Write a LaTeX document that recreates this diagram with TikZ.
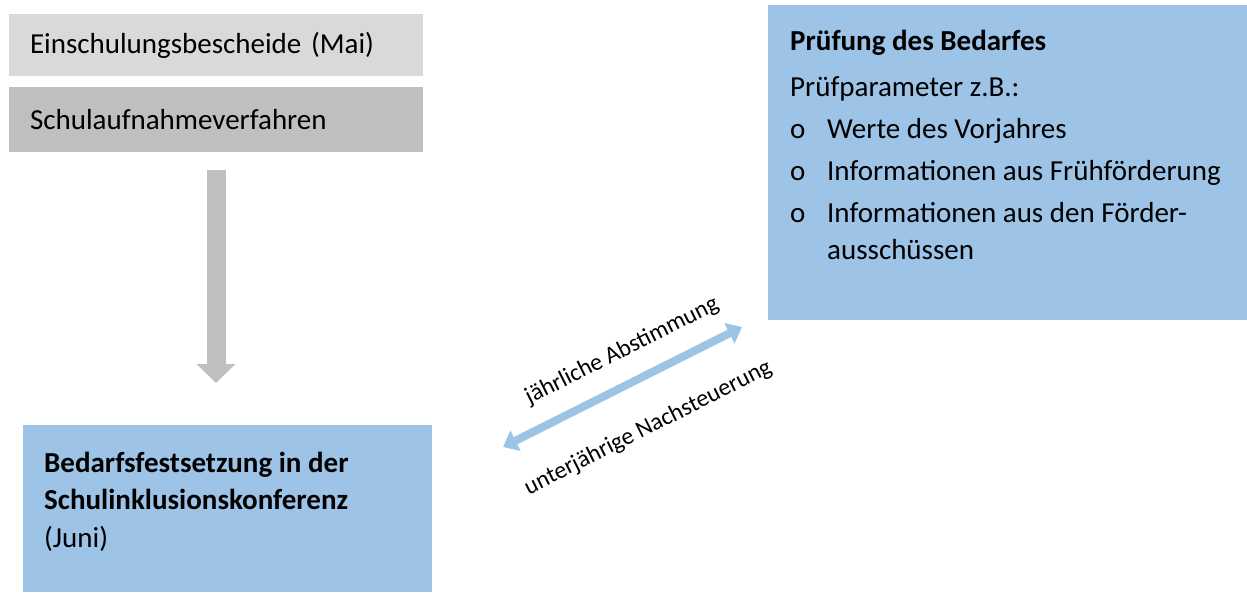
\documentclass[tikz,border=0pt]{standalone}
\usepackage{fontspec}
\setmainfont{Carlito}
\usetikzlibrary{arrows.meta,positioning}

\definecolor{boxLight}{HTML}{D9D9D9}
\definecolor{boxMid}{HTML}{BFBFBF}
\definecolor{boxBlue}{HTML}{9DC3E6}

\begin{document}
\begin{tikzpicture}[
    x=1pt, y=-1pt,
    every node/.style={font=\fontsize{29}{42}\selectfont},
    block/.style={anchor=north west, inner ysep=0pt, inner xsep=21pt,
      outer sep=0pt, align=left},
    step1/.style={block, fill=boxLight, text width=372pt, minimum height=62pt},
    step2/.style={block, fill=boxMid, text width=372pt, minimum height=65pt},
    result/.style={block, fill=boxBlue, minimum width=409pt, minimum height=167pt},
    check/.style={block, fill=boxBlue, minimum width=479pt, minimum height=315pt},
    boxtext/.style={anchor=north west, inner sep=0pt},
    label/.style={font=\fontsize{24}{29}\selectfont, inner sep=0pt},
    grayarrow/.style={draw=boxMid, line width=19pt,
      -{Triangle[width=38pt, length=19pt]}},
    bluearrow/.style={draw=boxBlue, line width=8pt,
      {Triangle[width=22pt, length=14pt]}-{Triangle[width=22pt, length=14pt]}}
  ]
    \useasboundingbox (0,0) rectangle (1247,592);

    \node[step1] (bescheide) at (9,14) {Einschulungsbescheide (Mai)};
    \node[step2] (aufnahme) at (9,87) {Schulaufnahmeverfahren};

    \node[result] (festsetzung) at (23,425) {};
    \node[boxtext, font=\fontsize{29}{37.5}\selectfont] (festText)
      at ([xshift=21pt, yshift=-21pt]festsetzung.north west) {%
      \begin{tabular}{@{}l@{}}
        \textbf{Bedarfsfestsetzung in der}\\
        \textbf{Schulinklusionskonferenz}\\
        (Juni)
      \end{tabular}};

    \node[check] (pruefung) at (768,5) {};
    \node[boxtext] (pruefText)
      at ([xshift=22pt, yshift=-15.6pt]pruefung.north west) {%
      \begin{tabular}{@{}p{37pt}@{}l@{}}
        \multicolumn{2}{@{}l@{}}{\textbf{Prüfung des Bedarfes}}\\[4pt]
        \multicolumn{2}{@{}l@{}}{Prüfparameter z.B.:}\\
        o & Werte des Vorjahres\\
        o & Informationen aus Frühförderung\\
        o & Informationen aus den Förder-\\[-5pt]
          & ausschüssen
      \end{tabular}};

    \coordinate (abstLeft) at (503,447);
    \coordinate (abstRight) at (742,327);
    \node[label, rotate=26.7] (jaehrlich) at (622,351) {jährliche Abstimmung};
    \node[label, rotate=26.7] (unterjaehrig) at (648,428) {unterjährige Nachsteuerung};

    \draw[grayarrow] ([yshift=-18pt]aufnahme.south)
      -- ([yshift=42pt]festsetzung.north -| aufnahme.south);
    \draw[bluearrow] (abstLeft) -- (abstRight);
\end{tikzpicture}
\end{document}
